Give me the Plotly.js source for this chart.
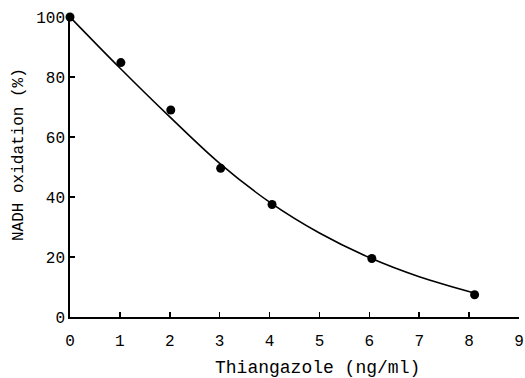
<!DOCTYPE html>
<html>
<head>
<meta charset="utf-8">
<script src="https://cdn.plot.ly/plotly-3.0.1.min.js"></script>
<style>html,body{margin:0;padding:0;background:#fff;}#chart{width:525px;height:378px;}</style>
</head>
<body>
<div id="chart"></div>
<script>
// Measured data points
const concX = [0, 1.02, 2.02, 3.02, 4.05, 6.05, 8.11];
const oxidationY = [100, 84.8, 69, 49.6, 37.5, 19.5, 7.4];

// Fitted curve
const curveX = [0, 1, 2, 3, 4, 5, 6, 7, 8.1];
const curveY = [100, 83, 66.7, 51.2, 38.3, 28, 19.8, 13.4, 8.0];

const xTicks = [0, 1, 2, 3, 4, 5, 6, 7, 8, 9];
const yTicks = [0, 20, 40, 60, 80, 100];

const FONT = "Liberation Mono, DejaVu Sans Mono, monospace";

const traces = [
  {
    x: curveX, y: curveY, type: 'scatter', mode: 'lines',
    line: {color: '#000', width: 1.6, shape: 'spline', smoothing: 1},
    hoverinfo: 'skip', showlegend: false
  },
  {
    x: concX, y: oxidationY, type: 'scatter', mode: 'markers',
    marker: {color: '#000', size: 9},
    cliponaxis: false, showlegend: false
  }
];

const layout = {
  width: 525, height: 378,
  margin: {l: 70, r: 6, t: 17, b: 61},
  paper_bgcolor: '#fff', plot_bgcolor: '#fff',
  font: {family: FONT, color: '#000', size: 16},
  showlegend: false,
  xaxis: {
    range: [0, 9], tickvals: xTicks, ticktext: xTicks.map(String),
    ticks: 'inside', ticklen: 5, tickwidth: 1.5, tickcolor: '#000',
    showline: true, linecolor: '#000', linewidth: 1.8,
    showgrid: false, zeroline: false, ticklabelstandoff: 8,
    tickfont: {family: FONT, size: 16, color: '#000'},
    title: {text: ''}
  },
  yaxis: {
    range: [0, 100], tickvals: yTicks, ticktext: yTicks.map(String),
    ticks: 'inside', ticklen: 5, tickwidth: 1.5, tickcolor: '#000',
    showline: true, linecolor: '#000', linewidth: 1.8,
    showgrid: false, zeroline: false, ticklabelstandoff: 0,
    tickfont: {family: FONT, size: 16, color: '#000'},
    title: {text: ''}
  },
  annotations: [
    {text: 'Thiangazole (ng/ml)', xref: 'paper', yref: 'paper',
     x: (317 - 70) / 449, y: -51 / 300, xanchor: 'center', yanchor: 'middle',
     showarrow: false, font: {family: FONT, size: 18, color: '#000'}},
    {text: 'NADH oxidation (%)', xref: 'paper', yref: 'paper',
     x: (19 - 70) / 449, y: (317 - 155) / 300, xanchor: 'center', yanchor: 'middle',
     textangle: -90, showarrow: false, font: {family: FONT, size: 16, color: '#000'}}
  ]
};

Plotly.newPlot('chart', traces, layout, {displayModeBar: false, staticPlot: true});
</script>
</body>
</html>
